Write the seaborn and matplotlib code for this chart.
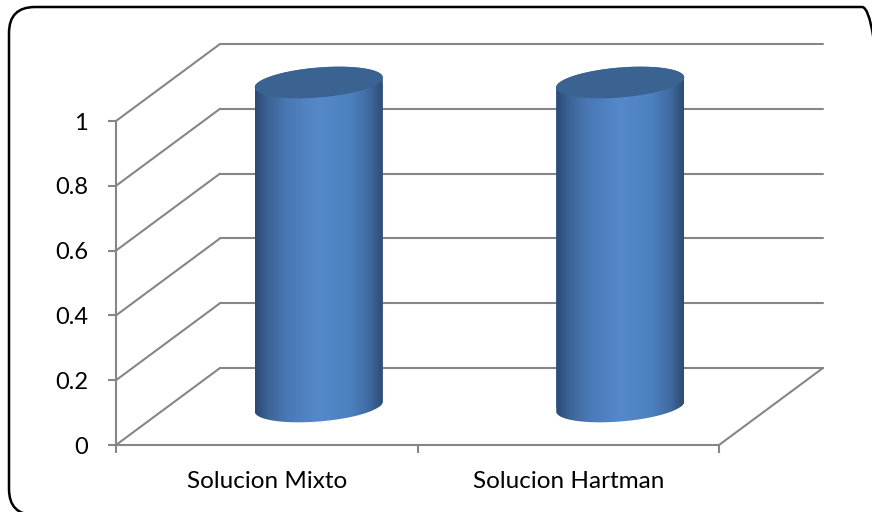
import numpy as np
import pandas as pd
import seaborn as sns
import matplotlib
matplotlib.use("Agg")
import matplotlib.pyplot as plt
from matplotlib.path import Path
from matplotlib.patches import FancyBboxPatch, PathPatch
from matplotlib.transforms import Affine2D
from matplotlib.colors import LinearSegmentedColormap

categories = ["Solucion Mixto", "Solucion Hartman"]
values = [1, 1]
y_ticks = [0, 0.2, 0.4, 0.6, 0.8, 1]
y_tick_labels = ["0", "0.2", "0.4", "0.6", "0.8", "1"]

sns.set_theme(style="white")
plt.rcParams["font.family"] = ["Lato", "DejaVu Sans"]

GREY = "#868686"
LW = 1.5
W, H = 872, 512
fig = plt.figure(figsize=(W / 100, H / 100), dpi=100, facecolor="white")
ax = fig.add_axes([116 / W, (H - 445) / H, 603 / W, 324 / H])
ax.set_facecolor("none")

df = pd.DataFrame({"category": categories, "value": values})
bar_w = 128 / 301.5
sns.barplot(data=df, x="category", y="value", ax=ax, width=bar_w,
            color="#4F81BD", saturation=1, zorder=3)

ax.set_xlim(-0.5, len(categories) - 0.5)
ax.set_ylim(0, 1)
xmin, xmax = ax.get_xlim()

# 3-D depth of the chart box, in data units
depth_x = 104 / 301.5
depth_y = 77 / 324

# walls: diagonal on the side wall, horizontal on the back wall
for y in y_ticks:
    ax.plot([xmin, xmin + depth_x], [y, y + depth_y], color=GREY, lw=LW,
            clip_on=False, zorder=1, solid_capstyle="round")
    ax.plot([xmin + depth_x, xmax + depth_x], [y + depth_y] * 2, color=GREY, lw=LW,
            clip_on=False, zorder=1)
ax.plot([xmax, xmax + depth_x], [0, depth_y], color=GREY, lw=LW, clip_on=False, zorder=1)

# cylinders: take the position and size of each bar and shade it
shade = LinearSegmentedColormap.from_list("cyl", [
    (0.00, "#2B4A74"), (0.10, "#3C6496"), (0.25, "#4A78B4"),
    (0.50, "#5589CB"), (0.75, "#4D80BF"), (0.90, "#3F6A9F"), (1.00, "#2E4B72")])
gradient = np.linspace(0, 1, 256).reshape(1, -1)
to_mid = Affine2D().translate(depth_x / 2, depth_y / 2) + ax.transData
half_dy = 15 / 324
tilt_dy = 5 / 324

for bar in list(ax.patches):
    x0, w, h = bar.get_x(), bar.get_width(), bar.get_height()
    cx = x0 + w / 2
    t1 = np.linspace(np.pi, 2 * np.pi, 80)
    t2 = np.linspace(0, np.pi, 80)
    ex = lambda t: cx + w / 2 * np.cos(t)
    ey = lambda t, base: base + tilt_dy * np.cos(t) + half_dy * np.sin(t)
    body = np.r_[np.c_[ex(t1), ey(t1, 0)], np.c_[ex(t2), ey(t2, h)]]
    body_path = Path(np.r_[body, body[:1]], closed=True)
    bar.set_transform(to_mid)
    bar.set_clip_box(fig.bbox)
    bar.set_clip_path(body_path, to_mid)
    bar.set_linewidth(0)
    im = ax.imshow(gradient, cmap=shade, aspect="auto", interpolation="bilinear",
                   extent=(x0, x0 + w, -0.1, h + 0.1), transform=to_mid, zorder=4)
    im.set_clip_box(fig.bbox)
    im.set_clip_path(body_path, to_mid)
    t = np.linspace(0, 2 * np.pi, 160)
    top = PathPatch(Path(np.c_[ex(t), ey(t, h)], closed=False), facecolor="#3A6392",
                    edgecolor="none", transform=to_mid, zorder=5, clip_on=False)
    ax.add_patch(top)

ax.set_xlim(xmin, xmax)
ax.set_ylim(0, 1)

# axes
for s in ["top", "right"]:
    ax.spines[s].set_visible(False)
for s in ["left", "bottom"]:
    ax.spines[s].set_color(GREY)
    ax.spines[s].set_linewidth(LW)
    ax.spines[s].set_zorder(2)
ax.set_xlabel("")
ax.set_ylabel("")
ax.set_yticks(y_ticks, y_tick_labels)
ax.tick_params(axis="y", length=6, width=LW, color=GREY, labelsize=17,
               labelcolor="black", pad=14, left=True)
ax.set_xticks([xmin, 0.5, xmax], ["", "", ""])
ax.tick_params(axis="x", which="major", length=6, width=LW, color=GREY, bottom=True)
ax.set_xticks(range(len(categories)), categories, minor=True)
ax.tick_params(axis="x", which="minor", length=0, labelsize=17.5, labelcolor="black", pad=18.5)

# outer rounded frame, running off the right and bottom of the image
frame = FancyBboxPatch((9 / 100, -3 / 100), 879 / 100, 508 / 100,
                       boxstyle="round,pad=0,rounding_size=0.26",
                       transform=fig.dpi_scale_trans, facecolor="none",
                       edgecolor="black", linewidth=1.8)
fig.add_artist(frame)

fig.savefig("out.png", dpi=100)
